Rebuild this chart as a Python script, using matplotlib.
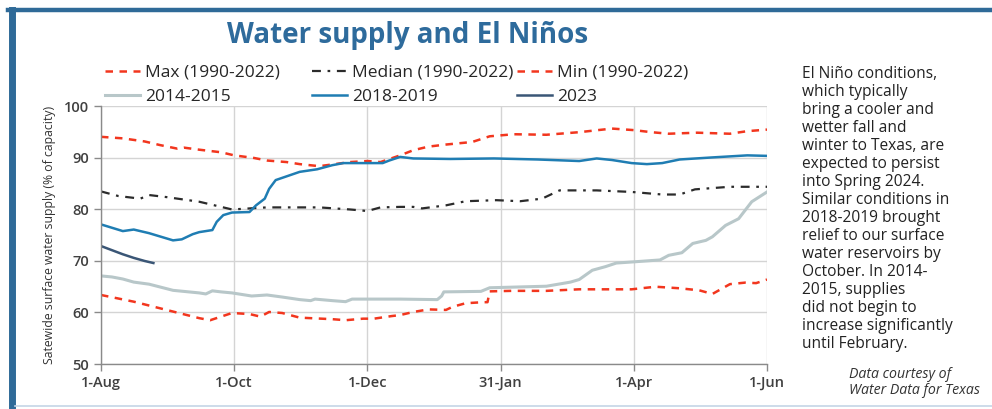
import matplotlib
matplotlib.use("Agg")
import matplotlib.pyplot as plt
from matplotlib.lines import Line2D

# ---- data (x = days since 1-Aug) ----
tick_days = [0, 61, 122, 183, 244, 305]
tick_labels = ["1-Aug", "1-Oct", "1-Dec", "31-Jan", "1-Apr", "1-Jun"]

max_days = [0, 10, 20, 27, 35, 38, 45, 55, 61, 70, 76, 85, 91, 100, 107, 114, 122, 128, 137, 143, 150, 158, 170, 178, 189, 204, 219, 234, 244, 252, 260, 273, 288, 296, 305]
max_vals = [94.1, 93.8, 93.2, 92.5, 91.8, 92.0, 91.6, 91.1, 90.5, 90.0, 89.5, 89.2, 88.8, 88.4, 88.8, 89.2, 89.4, 89.2, 90.5, 91.5, 92.2, 92.6, 93.1, 94.2, 94.6, 94.5, 95.0, 95.7, 95.4, 95.0, 94.7, 94.9, 94.7, 95.2, 95.5]

med_days = [0, 8, 18, 22, 30, 45, 60, 76, 91, 100, 114, 122, 128, 137, 143, 147, 158, 167, 181, 192, 202, 210, 227, 243, 257, 265, 272, 288, 305]
med_vals = [83.5, 82.6, 82.1, 82.8, 82.4, 81.5, 80.0, 80.4, 80.4, 80.4, 80.0, 79.7, 80.4, 80.5, 80.5, 80.2, 80.8, 81.6, 81.8, 81.6, 82.1, 83.7, 83.7, 83.4, 82.9, 82.9, 83.9, 84.4, 84.4]

min_days = [0, 15, 30, 45, 50, 60, 68, 73, 77, 83, 91, 106, 112, 120, 125, 133, 137, 143, 150, 158, 161, 167, 175, 177, 178, 188, 204, 219, 234, 243, 254, 265, 274, 280, 288, 295, 300, 305]
min_vals = [63.4, 62.1, 60.5, 58.9, 58.5, 59.9, 59.7, 59.2, 60.1, 59.9, 59.0, 58.7, 58.5, 58.8, 58.8, 59.3, 59.5, 60.1, 60.6, 60.5, 61.1, 61.8, 62.0, 62.0, 64.1, 64.2, 64.2, 64.5, 64.5, 64.5, 65.0, 64.7, 64.3, 63.6, 65.5, 65.8, 65.7, 66.4]

d14_days = [0, 5, 10, 15, 22, 33, 45, 48, 51, 55, 60, 69, 76, 83, 91, 96, 98, 106, 112, 115, 137, 154, 156, 157, 174, 178, 204, 215, 219, 225, 231, 236, 243, 256, 260, 266, 271, 277, 280, 286, 292, 298, 305]
d14_vals = [67.1, 66.9, 66.5, 65.9, 65.5, 64.3, 63.8, 63.6, 64.2, 64.0, 63.8, 63.2, 63.4, 63.0, 62.5, 62.3, 62.6, 62.3, 62.1, 62.6, 62.6, 62.5, 63.2, 64.0, 64.1, 64.8, 65.1, 65.9, 66.4, 68.2, 68.9, 69.6, 69.8, 70.2, 71.1, 71.6, 73.4, 74.0, 74.7, 76.9, 78.2, 81.5, 83.4]

d18_days = [0, 10, 15, 22, 33, 37, 42, 45, 51, 53, 56, 60, 68, 71, 75, 77, 80, 91, 99, 106, 111, 129, 132, 137, 143, 160, 180, 200, 219, 227, 234, 243, 250, 257, 265, 280, 296, 305]
d18_vals = [77.1, 75.8, 76.1, 75.4, 74.0, 74.2, 75.2, 75.6, 76.0, 77.6, 78.9, 79.4, 79.5, 80.8, 82.1, 84.0, 85.7, 87.3, 87.8, 88.6, 89.0, 89.0, 89.5, 90.2, 89.9, 89.8, 89.9, 89.7, 89.4, 89.9, 89.6, 89.0, 88.8, 89.0, 89.7, 90.1, 90.5, 90.4]

d23_days = [0, 5, 10, 15, 20, 24]
d23_vals = [72.9, 72.1, 71.3, 70.6, 70.0, 69.6]

plt.rcParams['font.family'] = ['Open Sans', 'DejaVu Sans']

fig = plt.figure(figsize=(9.92, 4.09), dpi=100)
ax = fig.add_axes([0.1018, 0.110, 0.6714, 0.6298])

RED = '#f2361e'
ax.plot(d14_days, d14_vals, color='#b8c7c9', lw=2.2, label='2014-2015')
ax.plot(max_days, max_vals, color=RED, lw=1.8, dashes=(3, 2.6), label='Max (1990-2022)')
ax.plot(min_days, min_vals, color=RED, lw=1.8, dashes=(3, 2.6), label='Min (1990-2022)')
ax.plot(med_days, med_vals, color='#2b2b2b', lw=1.6, dashes=(4, 3, 1.2, 3), label='Median (1990-2022)')
ax.plot(d18_days, d18_vals, color='#1f7db3', lw=1.8, label='2018-2019')
ax.plot(d23_days, d23_vals, color='#3a5676', lw=1.8, label='2023')

ax.set_xlim(0, 305)
ax.set_ylim(50, 100)
ax.set_xticks(tick_days)
ax.set_xticklabels(tick_labels)
ax.set_yticks(range(50, 101, 10))
ax.grid(True, color='#d4d4d4', lw=1.0)
ax.set_axisbelow(True)
for s in ['top', 'right']:
    ax.spines[s].set_visible(False)
for s in ['left', 'bottom']:
    ax.spines[s].set_color('#8a8a8a')
    ax.spines[s].set_linewidth(1.0)
ax.tick_params(axis='both', colors='#8a8a8a', labelcolor='#404040', labelsize=10.5, length=5, width=1)
for lab in ax.get_xticklabels() + ax.get_yticklabels():
    lab.set_fontweight('semibold')
ax.set_ylabel('Satewide surface water supply (% of capacity)', fontsize=8.8, color='#333333', labelpad=6)

# legend: three fixed-position columns
h = {l.get_label(): l for l in ax.get_lines()}
columns = [['Max (1990-2022)', '2014-2015'],
           ['Median (1990-2022)', '2018-2019'],
           ['Min (1990-2022)', '2023']]
col_x = [105 / 992, 312 / 992, 517 / 992]
for cx, names in zip(col_x, columns):
    lg = fig.legend([h[k] for k in names], names, loc='upper left',
                    bbox_to_anchor=(cx, 0.842), frameon=False,
                    borderpad=0, borderaxespad=0,
                    handlelength=2.0, handletextpad=0.3, labelspacing=0.45,
                    prop={'weight': 'normal', 'size': 12.5})
    for t in lg.get_texts():
        t.set_color('#262626')

fig.text(0.411, 0.912, 'Water supply and El Niños', ha='center', va='center',
         fontsize=20, fontweight='bold', color='#2e6b9c')

side = ("El Niño conditions,\nwhich typically\nbring a cooler and\nwetter fall and\n"
        "winter to Texas, are\nexpected to persist\ninto Spring 2024.\n"
        "Similar conditions in\n2018-2019 brought\nrelief to our surface\n"
        "water reservoirs by\nOctober. In 2014-\n2015, supplies\ndid not begin to\n"
        "increase significantly\nuntil February.")
fig.text(0.808, 0.838, side, ha='left', va='top', fontsize=11.2, color='#222222', linespacing=1.165)
fig.text(0.856, 0.065, 'Data courtesy of\nWater Data for Texas', ha='left', va='center',
         fontsize=10.2, style='italic', color='#333333', linespacing=1.1)

# frame
fig.add_artist(Line2D([8/992, 1.0], [1 - 10/409, 1 - 10/409], transform=fig.transFigure, color='#2f6a98', lw=3.2))
fig.add_artist(Line2D([12/992, 12/992], [0, 1 - 10/409], transform=fig.transFigure, color='#2f6a98', lw=5))
fig.add_artist(Line2D([15/992, 1.0], [3.5/409, 3.5/409], transform=fig.transFigure, color='#c5d5e6', lw=1.2))

fig.savefig('out.png', dpi=100)
